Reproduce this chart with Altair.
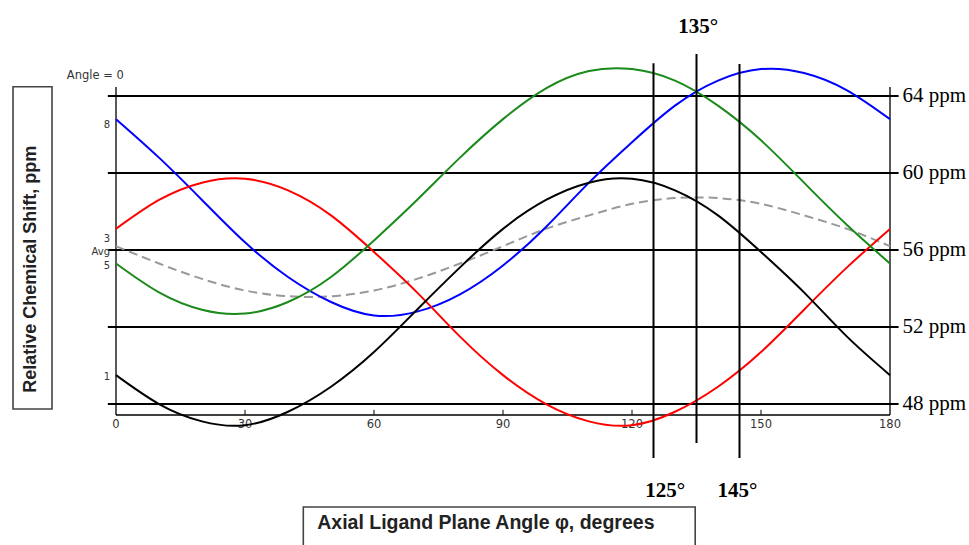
import altair as alt
import pandas as pd

# ---- data ----
angles = [0, 10, 20, 30, 40, 50, 60, 70, 80, 90, 100, 110, 120, 130, 140, 150, 160, 170, 180]
blue_8 = [62.8, 60.8, 58.6, 56.4, 54.6, 53.3, 52.6, 52.8, 53.7, 55.2, 57.2, 59.5, 61.6, 63.5, 64.8, 65.4, 65.2, 64.3, 62.8]
red_3 = [57.1, 58.6, 59.5, 59.7, 59.1, 57.8, 55.9, 53.8, 51.5, 49.5, 48.0, 47.1, 46.9, 47.6, 48.9, 50.7, 52.9, 55.1, 57.1]
green_5 = [55.3, 53.8, 52.9, 52.7, 53.3, 54.6, 56.5, 58.6, 60.8, 62.8, 64.4, 65.3, 65.4, 64.8, 63.5, 61.7, 59.5, 57.3, 55.3]
black_1 = [49.5, 48.0, 47.1, 46.9, 47.6, 48.9, 50.7, 52.9, 55.1, 57.1, 58.6, 59.5, 59.7, 59.1, 57.8, 55.9, 53.8, 51.5, 49.5]
avg = [56.2, 55.3, 54.5, 53.9, 53.6, 53.6, 53.9, 54.5, 55.3, 56.2, 57.1, 57.8, 58.4, 58.7, 58.7, 58.4, 57.8, 57.1, 56.2]

series_names = ["8", "3", "5", "1"]
series_colors = ["#0000ff", "#ff0000", "#1a8a1a", "#000000"]

ppm_levels = [48, 52, 56, 60, 64]
ppm_labels = ["48 ppm", "52 ppm", "56 ppm", "60 ppm", "64 ppm"]
marker_angles = [125, 135, 145]
marker_labels = ["125°", "135°", "145°"]
x_ticks = [0, 30, 60, 90, 120, 150, 180]
left_labels = ["8", "3", "Avg", "5", "1"]

# ---- tables ----
curves = pd.DataFrame({
    "angle": angles * 4,
    "ppm": blue_8 + red_3 + green_5 + black_1,
    "series": sum([[s] * len(angles) for s in series_names], []),
})
avg_df = pd.DataFrame({"angle": angles, "ppm": avg})

Y0, Y1 = 47.43, 64.47
xs = alt.Scale(domain=[0, 180], nice=False, zero=False)
ys = alt.Scale(domain=[Y0, Y1], nice=False, zero=False)

X = lambda f: alt.X(f, type="quantitative", scale=xs, axis=None)
Y = lambda f: alt.Y(f, type="quantitative", scale=ys, axis=None)

# horizontal reference lines
hlines = alt.Chart(pd.DataFrame({"y": ppm_levels, "x1": [-1.9] * 5, "x2": [182.0] * 5})).mark_rule(
    color="black", strokeWidth=2
).encode(x=X("x1"), x2="x2", y=Y("y"))

# right labels
hlabels = alt.Chart(pd.DataFrame({"y": ppm_levels, "t": ppm_labels, "x": [182.9] * 5})).mark_text(
    align="left", baseline="middle", font="Liberation Serif", fontSize=21, color="black"
).encode(x=X("x"), y=Y("y"), text="t:N")

# frame (left / right sides + bottom)
frame = alt.Chart(pd.DataFrame({"x": [0, 180], "y1": [Y0, Y0], "y2": [Y1, Y1]})).mark_rule(
    color="black", strokeWidth=1.3
).encode(x=X("x"), y=Y("y1"), y2="y2")
frame_bottom = alt.Chart(pd.DataFrame({"x1": [0], "x2": [180], "y": [Y0]})).mark_rule(
    color="black", strokeWidth=1.3
).encode(x=X("x1"), x2="x2", y=Y("y"))

# inner ticks on bottom axis
ticks = alt.Chart(pd.DataFrame({"x": x_ticks[1:-1], "y1": [Y0] * 5, "y2": [Y0 + 0.27] * 5})).mark_rule(
    color="black", strokeWidth=1
).encode(x=X("x"), y=Y("y1"), y2="y2")

# tick labels
tlabels = alt.Chart(pd.DataFrame({"x": x_ticks, "t": [str(v) for v in x_ticks], "y": [Y0] * 7})).mark_text(
    baseline="top", dy=4, font="DejaVu Sans", fontSize=11.5, color="#333333"
).encode(x=X("x"), y=Y("y"), text="t:N")

# curves
lines = alt.Chart(curves).mark_line(strokeWidth=2, interpolate="natural").encode(
    x=X("angle"), y=Y("ppm"),
    color=alt.Color("series:N", scale=alt.Scale(domain=series_names, range=series_colors), legend=None),
    detail="series:N",
)
avg_line = alt.Chart(avg_df).mark_line(
    strokeWidth=2, color="#999999", strokeDash=[9, 5], interpolate="natural"
).encode(x=X("angle"), y=Y("ppm"))

# vertical marker lines
markers = alt.Chart(pd.DataFrame({
    "x": marker_angles, "y1": [45.19, 45.97, 45.19], "y2": [65.71, 66.18, 65.66]
})).mark_rule(color="black", strokeWidth=2).encode(x=X("x"), y=Y("y1"), y2="y2")

mlabels = alt.Chart(pd.DataFrame({
    "x": [127.7, 135.4, 144.5], "y": [43.5, 67.6, 43.5], "t": marker_labels
})).mark_text(
    align="center", baseline="middle", font="Liberation Serif", fontSize=21, fontWeight="bold", color="black"
).encode(x=X("x"), y=Y("y"), text="t:N")

# left series labels
llabels = alt.Chart(pd.DataFrame({
    "x": [0] * 5, "y": [62.5, 56.55, 55.9, 55.17, 49.4], "t": left_labels
})).mark_text(
    align="right", baseline="middle", dx=-6, font="DejaVu Sans", fontSize=10, color="#333333"
).encode(x=X("x"), y=Y("y"), text="t:N")

angle0 = alt.Chart(pd.DataFrame({"x": [-4.8], "y": [65.04], "t": ["Angle = 0"]})).mark_text(
    align="center", baseline="middle", font="DejaVu Sans", fontSize=11.5, color="#333333"
).encode(x=X("x"), y=Y("y"), text="t:N")

# axis-title boxes
boxes = alt.Chart(pd.DataFrame({
    "x1": [-23.95, 43.56], "x2": [-14.88, 134.7], "y1": [47.74, 40.2], "y2": [64.48, 42.65]
})).mark_rect(fill="white", stroke="#444444", strokeWidth=1.6).encode(
    x=X("x1"), x2="x2", y=Y("y1"), y2="y2"
)
ytitle = alt.Chart(pd.DataFrame({"x": [-19.7], "y": [55.0], "t": ["Relative Chemical Shift, ppm"]})).mark_text(
    angle=270, align="center", baseline="middle", font="Liberation Sans", fontSize=18,
    fontWeight="bold", color="#222222"
).encode(x=X("x"), y=Y("y"), text="t:N")
xtitle = alt.Chart(pd.DataFrame({"x": [46.8], "y": [41.8], "t": ["Axial Ligand Plane Angle φ, degrees"]})).mark_text(
    align="left", baseline="middle", font="Liberation Sans", fontSize=19.5, fontWeight="bold", color="#222222"
).encode(x=X("x"), y=Y("y"), text="t:N")

chart = alt.layer(
    boxes, ytitle, xtitle, hlines, frame, frame_bottom, ticks, tlabels, hlabels,
    avg_line, lines, markers, mlabels, llabels, angle0,
).properties(
    width=774, height=328,
    autosize=alt.AutoSizeParams(type="none"),
    padding={"left": 116, "top": 87, "right": 79, "bottom": 130},
    background="white",
).configure_view(stroke=None)

chart.save("out.html", embed_options={"renderer": "svg", "actions": False})
